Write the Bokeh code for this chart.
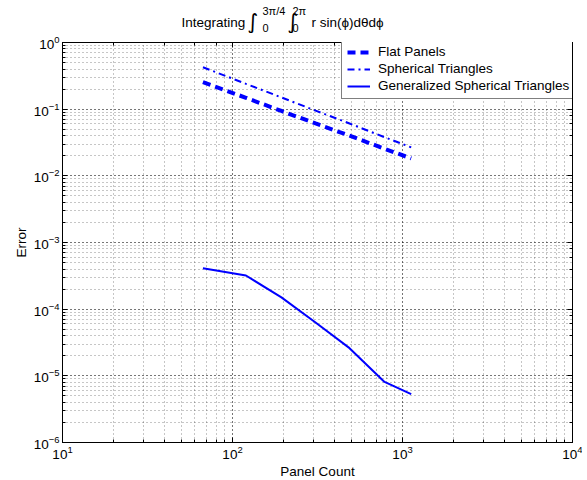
import math
from bokeh.plotting import figure
from bokeh.layouts import column
from bokeh.models import (LogAxis, Label, Legend, LegendItem, LogTicker,
                          CustomJSTickFormatter, Range1d)
from bokeh.embed import file_html
from bokeh.resources import INLINE

# ---- data ----
panel_count = [67, 120, 194, 308, 488, 784, 1125]
flat_err = [0.254, 0.148, 0.094, 0.061, 0.040, 0.0255, 0.0182]
sph_err = [0.426, 0.240, 0.150, 0.095, 0.061, 0.038, 0.0267]
gen_err = [4.1e-4, 3.2e-4, 1.5e-4, 6.3e-5, 2.6e-5, 8.1e-6, 5.3e-6]
series_names = ["Flat Panels", "Spherical Triangles", "Generalized Spherical Triangles"]

FONT = "Liberation Sans"
BLUE = "#0000ff"
FL, FW = 63, 510   # frame left (page px) and frame width
TH = 33

# ---- title strip: its frame is aligned with the main frame by the column layout ----
tf = figure(frame_width=FW, frame_height=TH,
            x_range=Range1d(FL, FL + FW), y_range=Range1d(0, TH),
            min_border_left=0, min_border_right=0, min_border_top=0, min_border_bottom=0,
            x_axis_location=None, y_axis_location=None,
            output_backend="svg", toolbar_location=None, title_location=None)
tf.outline_line_color = None
tf.grid.visible = False

def lab(x, y, t, size, font=FONT):
    tf.add_layout(Label(x=x, y=y, text=t, text_font=font, text_font_size=size,
                        text_align="left", text_baseline="alphabetic",
                        text_color="black"))

# (page x, page y of baseline)
lab(182, TH - 22, "Integrating", "13.5px")
lab(248, TH - 21, "\u222b", "21px", "DejaVu Sans")
lab(263, TH - 10, "3\u03c0/4", "11px")
lab(263, TH - 27, "0", "11px")
lab(288, TH - 21, "\u222b", "21px", "DejaVu Sans")
lab(293, TH - 10, "2\u03c0", "11px")
lab(293, TH - 27, "0", "11px")
lab(312, TH - 22, "r sin(\u03d5)d\u03b8d\u03d5", "13.5px")

# ---- main plot ----
p = figure(x_axis_type="log", y_axis_type="log",
           x_range=(10, 1e4), y_range=(1e-6, 1),
           frame_width=FW, frame_height=400,
           min_border_left=62, min_border_right=10,
           min_border_top=9, min_border_bottom=36,
           output_backend="svg", toolbar_location=None, title_location=None)
p.background_fill_color = "white"
p.outline_line_color = "black"
p.outline_line_width = 1

for g in (p.xgrid[0], p.ygrid[0]):
    g.grid_line_color = "black"
    g.grid_line_alpha = 0.45
    g.grid_line_dash = "1 3"
    g.minor_grid_line_color = "black"
    g.minor_grid_line_alpha = 0.45
    g.minor_grid_line_dash = "1 3"

def style_axis(ax):
    ax.axis_line_color = "black"
    ax.major_tick_in = 5
    ax.major_tick_out = 0
    ax.minor_tick_in = 3
    ax.minor_tick_out = 0
    ax.major_tick_line_color = "black"
    ax.minor_tick_line_color = "black"
    ax.major_label_text_font = FONT
    ax.major_label_text_color = "black"
    ax.major_label_text_font_size = "13.5px"
    ax.major_label_standoff = 3
    ax.axis_label_text_font = FONT
    ax.axis_label_text_font_size = "13.5px"
    ax.axis_label_text_font_style = "normal"
    ax.axis_label_text_color = "black"
    ax.axis_label_standoff = 2

style_axis(p.xaxis[0])
style_axis(p.yaxis[0])
p.xaxis[0].axis_label = "Panel Count"
p.yaxis[0].axis_label = "Error"

blank = CustomJSTickFormatter(code="return ''")
top_ax = LogAxis(ticker=LogTicker(), formatter=blank)
right_ax = LogAxis(ticker=LogTicker(), formatter=blank)
for ax in (top_ax, right_ax):
    style_axis(ax)
    ax.major_label_standoff = 0
p.add_layout(top_ax, "above")
p.add_layout(right_ax, "right")

r1 = p.line(panel_count, flat_err, line_color=BLUE, line_width=4, line_dash="8 5")
r2 = p.line(panel_count, sph_err, line_color=BLUE, line_width=2, line_dash="7 4 2 4")
r3 = p.line(panel_count, gen_err, line_color=BLUE, line_width=2)

legend = Legend(items=[LegendItem(label=series_names[0], renderers=[r1]),
                       LegendItem(label=series_names[1], renderers=[r2]),
                       LegendItem(label=series_names[2], renderers=[r3])],
                location=(279, 343))
legend.label_text_font = FONT
legend.label_text_font_size = "13.5px"
legend.label_text_color = "black"
legend.glyph_width = 23
legend.glyph_height = 14
legend.label_height = 14
legend.label_standoff = 8
legend.spacing = 2
legend.padding = 5
legend.margin = 0
legend.border_line_color = "black"
legend.border_line_width = 1
legend.background_fill_alpha = 1.0
p.add_layout(legend, "center")

layout = column(tf, p, spacing=0)
open("out.html", "w").write(file_html(layout, INLINE))
